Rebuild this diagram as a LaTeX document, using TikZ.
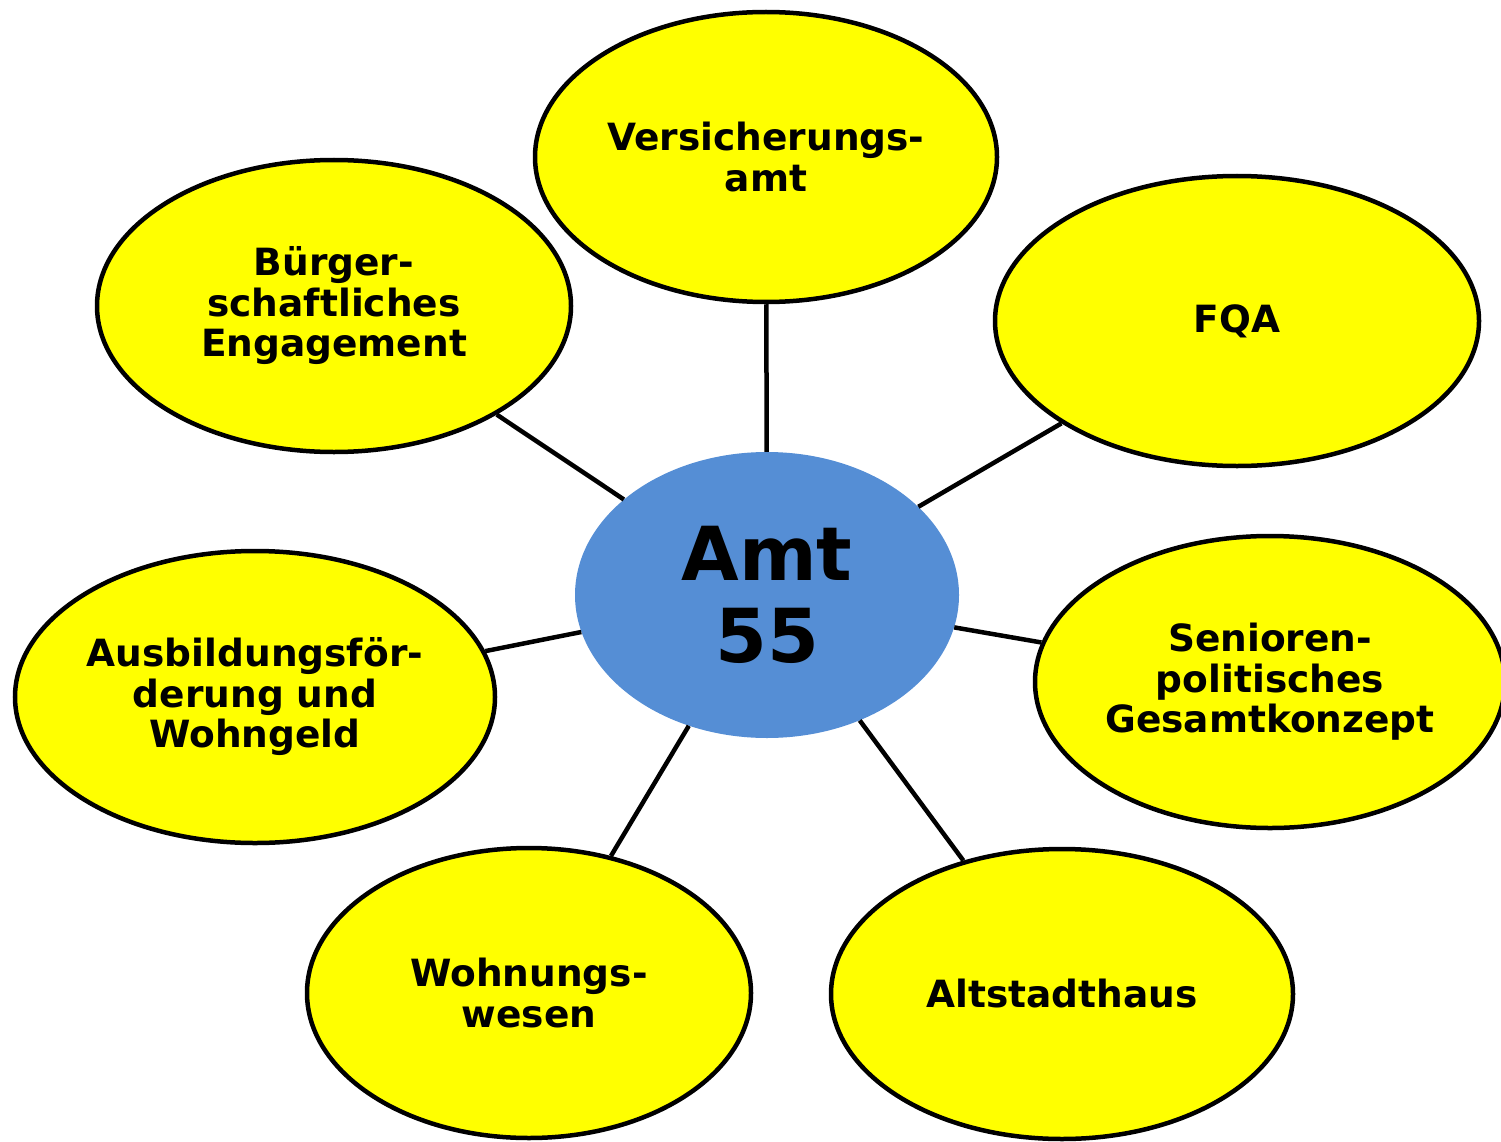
\documentclass[tikz,border=0pt]{standalone}
\usepackage{fontspec}
\setmainfont{DejaVu Sans}
\usetikzlibrary{shapes.geometric}
\definecolor{ellyellow}{HTML}{FFFF00}
\definecolor{centerblue}{HTML}{558ED5}
\begin{document}
\begin{tikzpicture}[x=1pt,y=-1pt,
  outer/.style={ellipse, draw=black, line width=4.5pt, fill=ellyellow, inner sep=0pt,
    align=center, font=\fontsize{37.5}{40.5}\selectfont\bfseries},
  hub/.style={ellipse, fill=centerblue, inner sep=0pt, align=center,
    font=\fontsize{74.5}{82}\selectfont\bfseries},
  link/.style={line width=4.5pt, draw=black}]
\useasboundingbox (0,0) rectangle (1501,1142);
\clip (0,0) rectangle (1501,1142);
\fill[white] (0,0) rectangle (1501,1142);
\node[hub, minimum width=384pt, minimum height=286pt] (c) at (767,595) {Amt\\55};
\node[outer, minimum width=462pt, minimum height=290pt] (v) at (766,157) {Versicherungs-\\amt};
\node[outer, minimum width=474pt, minimum height=292pt] (b) at (334,306) {Bürger-\\schaftliches\\Engagement};
\node[outer, minimum width=484pt, minimum height=290pt] (f) at (1237,321) {FQA};
\node[outer, minimum width=480pt, minimum height=292pt] (a) at (255,697) {Ausbildungsför-\\derung und\\Wohngeld};
\node[outer, minimum width=470pt, minimum height=292pt] (s) at (1270,682) {Senioren-\\politisches\\Gesamtkonzept};
\node[outer, minimum width=444pt, minimum height=290pt] (w) at (529,993) {Wohnungs-\\wesen};
\node[outer, minimum width=462pt, minimum height=290pt] (h) at (1062,994) {Altstadthaus};
\foreach \n in {v,b,f,a,s,w,h} {\draw[link] (c) -- (\n);}
\end{tikzpicture}
\end{document}
